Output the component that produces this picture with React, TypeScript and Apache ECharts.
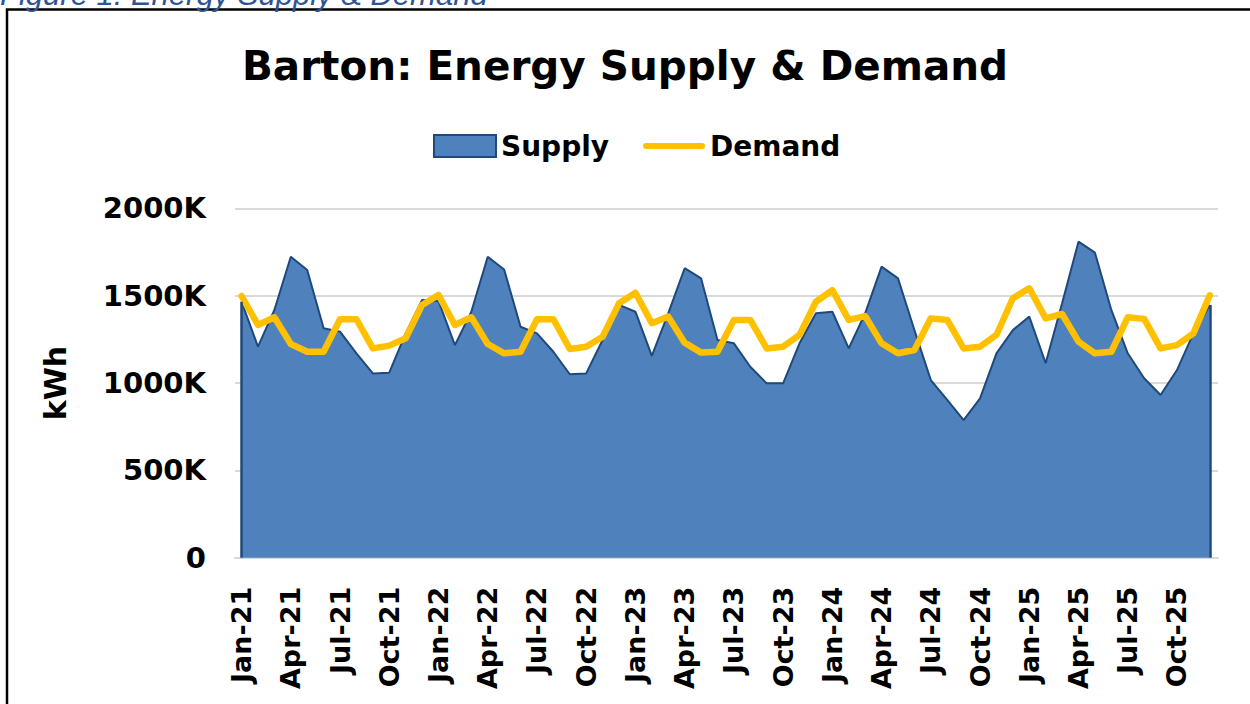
import React, { useEffect, useRef } from "react";
import * as echarts from "echarts";

const months: string[] = [
  "Jan-21","Feb-21","Mar-21","Apr-21","May-21","Jun-21","Jul-21","Aug-21","Sep-21","Oct-21","Nov-21","Dec-21",
  "Jan-22","Feb-22","Mar-22","Apr-22","May-22","Jun-22","Jul-22","Aug-22","Sep-22","Oct-22","Nov-22","Dec-22",
  "Jan-23","Feb-23","Mar-23","Apr-23","May-23","Jun-23","Jul-23","Aug-23","Sep-23","Oct-23","Nov-23","Dec-23",
  "Jan-24","Feb-24","Mar-24","Apr-24","May-24","Jun-24","Jul-24","Aug-24","Sep-24","Oct-24","Nov-24","Dec-24",
  "Jan-25","Feb-25","Mar-25","Apr-25","May-25","Jun-25","Jul-25","Aug-25","Sep-25","Oct-25","Nov-25","Dec-25",
];

// kWh (thousands)
const supplyK: number[] = [
  1465, 1208, 1418, 1723, 1647, 1313, 1294, 1170, 1055, 1059, 1284, 1475,
  1470, 1217, 1408, 1723, 1650, 1322, 1284, 1179, 1050, 1055, 1246, 1447,
  1408, 1155, 1399, 1657, 1599, 1246, 1227, 1093, 998, 998, 1227, 1399,
  1408, 1198, 1399, 1666, 1599, 1303, 1017, 903, 788, 912, 1170, 1303,
  1380, 1113, 1456, 1809, 1746, 1418, 1170, 1027, 931, 1074, 1284, 1447,
];

const demandK: number[] = [
  1498, 1332, 1376, 1223, 1179, 1179, 1365, 1365, 1198, 1214, 1256, 1447,
  1504, 1332, 1376, 1223, 1170, 1179, 1365, 1365, 1195, 1208, 1265, 1456,
  1517, 1342, 1380, 1231, 1174, 1179, 1361, 1361, 1198, 1208, 1275, 1465,
  1532, 1361, 1383, 1227, 1170, 1189, 1370, 1361, 1198, 1208, 1275, 1485,
  1542, 1370, 1395, 1237, 1170, 1179, 1376, 1367, 1198, 1217, 1284, 1502,
];

const labelIndices: number[] = [0, 3, 6, 9, 12, 15, 18, 21, 24, 27, 30, 33, 36, 39, 42, 45, 48, 51, 54, 57];
const yTicks: number[] = [0, 500000, 1000000, 1500000, 2000000];

const FONT = "DejaVu Sans";

export default function App() {
  const ref = useRef<HTMLDivElement>(null);

  useEffect(() => {
    document.body.style.margin = "0";
    if (!ref.current) return;
    const chart = echarts.init(ref.current, null, { renderer: "svg" });
    const supply = supplyK.map((v, i) => [i, v * 1000]);
    const demand = demandK.map((v, i) => [i, v * 1000]);
    const last = supplyK.length - 1;

    chart.setOption({
      animation: false,
      backgroundColor: "#ffffff",
      graphic: [
        {
          type: "rect",
          shape: { x: 7, y: 9.5, width: 1300, height: 760 },
          style: { fill: "none", stroke: "#000000", lineWidth: 2.5 },
          silent: true,
        },
        {
          type: "text",
          x: 0,
          y: 10,
          style: {
            text: "Figure 1: Energy Supply & Demand",
            font: 'italic 31px "Liberation Sans"',
            fill: "#2f5496",
            verticalAlign: "bottom",
          },
          silent: true,
        },
      ],
      title: {
        text: "Barton: Energy Supply & Demand",
        left: "center",
        top: 40,
        textStyle: { fontFamily: FONT, fontWeight: "bold", fontSize: 40.5, color: "#000000" },
      },
      legend: {
        left: 428,
        top: 127,
        itemWidth: 62,
        itemHeight: 22,
        itemGap: 34,
        textStyle: { fontFamily: FONT, fontWeight: "bold", fontSize: 28, color: "#000000" },
        data: [
          {
            name: "Supply",
            icon: "rect",
            itemStyle: { color: "#4f81bd", borderColor: "#1f497d", borderWidth: 2 },
          },
          {
            name: "Demand",
            icon: "path://M3,0 H59 A3,3 0 0 1 59,6 H3 A3,3 0 0 1 3,0 Z",
            itemStyle: { color: "#ffc000", borderWidth: 0 },
          },
        ],
      },
      grid: { left: 235, right: 32, top: 208.3, bottom: 146.3 },
      xAxis: {
        type: "value",
        min: -0.4,
        max: 59.5,
        splitLine: { show: false },
        axisTick: { show: false },
        axisLine: { show: true, lineStyle: { color: "#d9d9d9", width: 2 } },
        axisLabel: {
          customValues: labelIndices,
          rotate: 90,
          margin: 29,
          fontFamily: FONT,
          fontWeight: "bold",
          fontSize: 27,
          color: "#000000",
          formatter: (v: number) => months[Math.round(v)] ?? "",
        },
      },
      yAxis: {
        type: "value",
        min: 0,
        max: 2000000,
        interval: 500000,
        name: "kWh",
        nameLocation: "middle",
        nameRotate: 90,
        nameGap: 165,
        nameTextStyle: { fontFamily: FONT, fontWeight: "bold", fontSize: 30, color: "#000000" },
        axisLine: { show: false },
        axisTick: { show: false },
        splitLine: { show: true, lineStyle: { color: "#d9d9d9", width: 2 } },
        axisLabel: {
          margin: 29,
          fontFamily: FONT,
          fontWeight: "bold",
          fontSize: 29,
          color: "#000000",
          customValues: yTicks,
          formatter: (v: number) => (v === 0 ? "0" : `${v / 1000}K`),
        },
      },
      series: [
        {
          name: "Supply",
          type: "line",
          data: supply,
          symbol: "none",
          lineStyle: { color: "#1f497d", width: 2 },
          itemStyle: { color: "#4f81bd", borderColor: "#1f497d" },
          areaStyle: { color: "#4f81bd", opacity: 1 },
          markLine: {
            silent: true,
            symbol: "none",
            label: { show: false },
            lineStyle: { color: "#1f497d", width: 2.5, type: "solid" },
            data: [
              [{ coord: [0, 0] }, { coord: [0, supplyK[0] * 1000] }],
              [{ coord: [last, 0] }, { coord: [last, supplyK[last] * 1000] }],
            ],
          },
          z: 2,
        },
        {
          name: "Demand",
          type: "line",
          data: demand,
          symbol: "none",
          lineStyle: { color: "#ffc000", width: 6.5, join: "round", cap: "round" },
          itemStyle: { color: "#ffc000" },
          z: 3,
        },
      ],
    });

    return () => chart.dispose();
  }, []);

  return <div ref={ref} style={{ width: 1250, height: 704 }} />;
}
